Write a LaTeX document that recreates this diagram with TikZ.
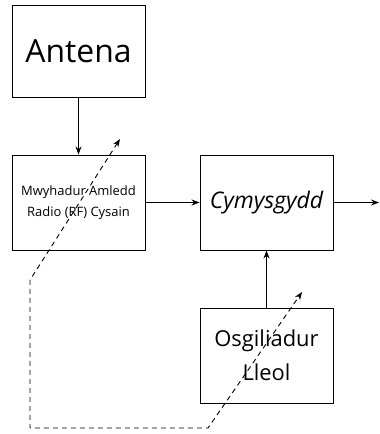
\documentclass[tikz,border=0pt]{standalone}
\usepackage{fontspec}
\setmainfont{Open Sans}
\usetikzlibrary{arrows.meta}
\begin{document}
\begin{tikzpicture}[x=1bp,y=-1bp,
  blockbox/.style={draw,line width=0.9bp,inner sep=0pt,minimum width=133bp,minimum height=95bp,align=center},
  flow/.style={line width=0.8bp,-{Stealth[length=8bp,width=6bp]}},
  tuning/.style={line width=0.9bp,dash pattern=on 5bp off 4bp,{Stealth[length=8bp,width=6bp]}-{Stealth[length=8bp,width=6bp]}}]
\useasboundingbox (0,0) rectangle (379,434);
% blocks
\node[blockbox,minimum height=92bp,font=\fontsize{32}{36}\selectfont] (antena) at (78.5,51) {Antena};
\node[blockbox,font=\fontsize{13}{21}\selectfont] (rf) at (78.5,202.5) {Mwyhadur Amledd\\Radio (RF) Cysain};
\node[blockbox,font=\fontsize{23}{26}\selectfont\itshape] (mix) at (266.5,202.5) {Cymysgydd};
\node[blockbox,font=\fontsize{22}{34}\selectfont] (lo) at (266.5,355.5) {Osgiliadur\\Lleol};
\coordinate (out) at (379,202.5);
% signal path
\draw[flow] (antena.south) -- (rf.north);
\draw[flow] (rf.east) -- (mix.west);
\draw[flow] (mix.east) -- (out);
\draw[flow] (lo.north) -- (mix.south);
% ganged tuning link
\coordinate (t1) at (120,139);
\coordinate (c1) at (30,280);
\coordinate (c2) at (30,428);
\coordinate (c3) at (208,428);
\coordinate (t2) at (302,292);
\draw[tuning] (t1) -- (c1) -- (c2) -- (c3) -- (t2);
\end{tikzpicture}
\end{document}
